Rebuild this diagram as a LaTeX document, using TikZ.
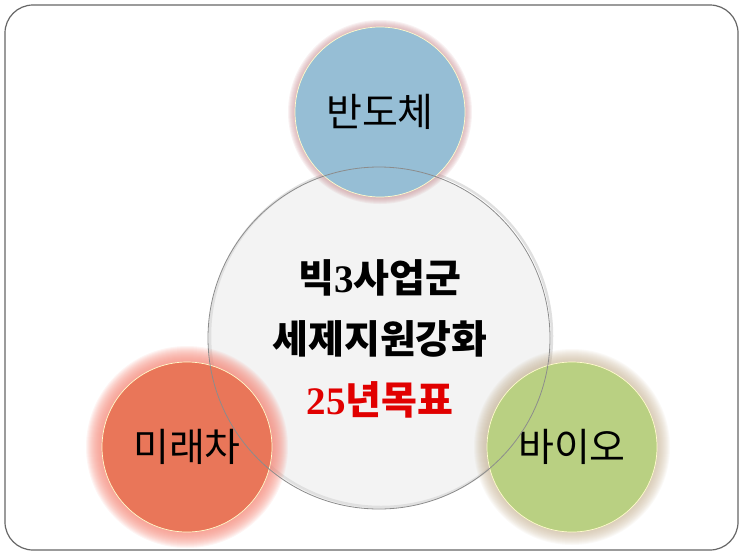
\documentclass[tikz,border=0pt]{standalone}
\usepackage{fontspec}
\setmainfont{Noto Sans CJK KR}
\newfontfamily\numfont{Liberation Serif}
\usetikzlibrary{positioning}
\definecolor{chipblue}{RGB}{150,190,213}
\definecolor{carred}{RGB}{233,118,89}
\definecolor{biogreen}{RGB}{185,208,130}
\definecolor{hubgray}{RGB}{243,243,243}
\definecolor{goalred}{RGB}{225,0,0}
\definecolor{roseglow}{RGB}{205,150,155}
\definecolor{pinkglow}{RGB}{245,140,125}
\definecolor{tanglow}{RGB}{200,180,150}
\tikzset{
  field/.style={circle, minimum size=170pt, inner sep=0pt,
    draw=white!80!yellow, line width=0.7pt,
    font=\fontsize{39}{44}\selectfont},
  hub/.style={circle, minimum size=342pt, inner sep=0pt, fill=hubgray},
  hubtext/.style={align=center, font=\bfseries\fontsize{39}{61}\selectfont},
  frame/.style={draw=black!60, line width=1.2pt, rounded corners=28pt}
}
\begin{document}
\begin{tikzpicture}[x=1pt, y=-1pt]
  \useasboundingbox (0,0) rectangle (743,557);
  \draw[frame] (5,5) rectangle (738,550);
  % big circle in the middle
  \node[hub] (hub) at (379,338) {};
  \draw[black!12, line width=2.5pt] ([shift={(2,-2)}]hub.center) circle (171pt);
  % glows behind the three fields
  \foreach \r in {1,...,7}
    \fill[roseglow, opacity=0.13] (380,112) circle (85pt+\r pt);
  \foreach \r in {1,...,16}
    \fill[pinkglow, opacity=0.09] (187,447) circle (85pt+\r pt);
  \foreach \r in {1,...,13}
    \fill[tanglow, opacity=0.08] (572,447) circle (85pt+\r pt);
  \node[field, fill=chipblue] (chip) at (380,112) {반도체};
  \node[field, fill=carred] (car) at (187,447) {미래차};
  \node[field, fill=biogreen] (bio) at (572,447) {바이오};
  % outline of the middle circle over the fields
  \draw[black!45, line width=0.8pt] (hub.center) circle (171pt);
  \node[hubtext] (goal) at (380,339)
    {빅{\numfont 3}사업군\\세제지원강화\\\textcolor{goalred}{{\numfont 25}년목표}};
\end{tikzpicture}
\end{document}
